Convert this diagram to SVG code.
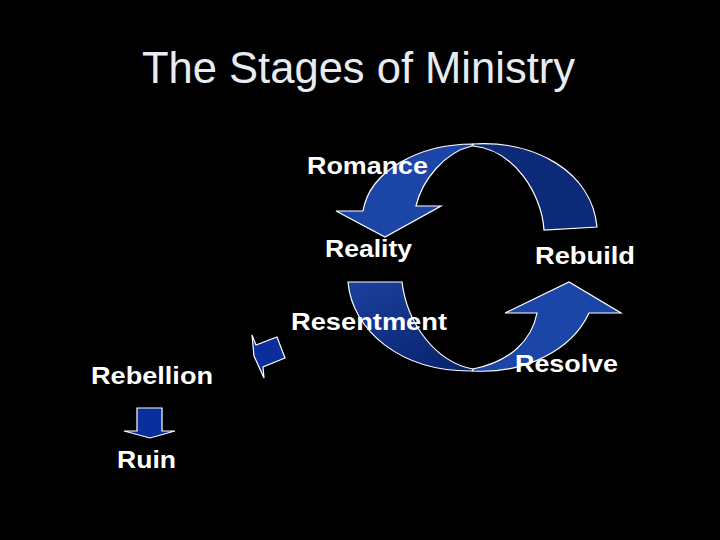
<svg xmlns="http://www.w3.org/2000/svg" width="720" height="540" viewBox="0 0 720 540">
  <style>
    .lbl { font-family: "Liberation Sans", Arial, sans-serif; font-weight: bold; font-size: 24px; fill: #ffffff; }
    .title { font-family: "Liberation Sans", Arial, sans-serif; font-size: 44px; fill: #e8ecf2; }
    .arr { stroke: #ffffff; stroke-width: 1.2; stroke-linejoin: miter; }
    .bright { fill: #1c45a8; }
    .dark { fill: #0c2a78; }
    .small { fill: #0a2f9c; }
  </style>
  <defs>
    <linearGradient id="gLeft" x1="0" y1="0" x2="0.6" y2="1">
      <stop offset="0" stop-color="#1c409e"/>
      <stop offset="1" stop-color="#0b2570"/>
    </linearGradient>
  </defs>
  <rect x="0" y="0" width="720" height="540" fill="#000000"/>

  <text class="title" x="142" y="83" textLength="433" lengthAdjust="spacingAndGlyphs">The Stages of Ministry</text>

  <g id="connectors">
    <!-- top curved arrow: back (dark) band -->
    <path class="arr dark" d="M473,144 C535,140 592,172 597,227 L544,230 C542,195 515,150 473,146 Z"/>
    <!-- top curved arrow: front (bright) band with head -->
    <path class="arr bright" d="M473,144 C420,144 370,170 363,211 L336,211 L385,237 L441,206 L416,206 C422,180 445,152 472,146 Z"/>
    <!-- bottom curved arrow: left band -->
    <path class="arr" fill="url(#gLeft)" d="M348,282 L402,282 C407,323 435,362 473,369 L473,371 C400,372 352,330 348,282 Z"/>
    <!-- bottom curved arrow: right band with head -->
    <path class="arr bright" d="M473,371 C525,374 572,350 589,313 L621,313 L569,282 L505,313 L537,313 C532,340 510,362 473,369 Z"/>
    <!-- small tilted arrow near Resentment -->
    <path class="arr small" d="M252,335 L256,345 L277,337 L285,358 L263,367 L264,378 L254,356 Z"/>
    <!-- Rebellion to Ruin arrow -->
    <path class="arr small" d="M137,408 L162,408 L162,431 L175,431 L150,438 L124,431 L137,431 Z"/>
  </g>

  <g id="romance"><text class="lbl" x="307" y="174" textLength="121" lengthAdjust="spacingAndGlyphs">Romance</text></g>
  <g id="reality"><text class="lbl" x="325" y="257" textLength="87" lengthAdjust="spacingAndGlyphs">Reality</text></g>
  <g id="rebuild"><text class="lbl" x="535" y="264" textLength="100" lengthAdjust="spacingAndGlyphs">Rebuild</text></g>
  <g id="resentment"><text class="lbl" x="291" y="330" textLength="156" lengthAdjust="spacingAndGlyphs">Resentment</text></g>
  <g id="resolve"><text class="lbl" x="515" y="372" textLength="103" lengthAdjust="spacingAndGlyphs">Resolve</text></g>
  <g id="rebellion"><text class="lbl" x="91" y="384" textLength="122" lengthAdjust="spacingAndGlyphs">Rebellion</text></g>
  <g id="ruin"><text class="lbl" x="117" y="468" textLength="59" lengthAdjust="spacingAndGlyphs">Ruin</text></g>
</svg>
